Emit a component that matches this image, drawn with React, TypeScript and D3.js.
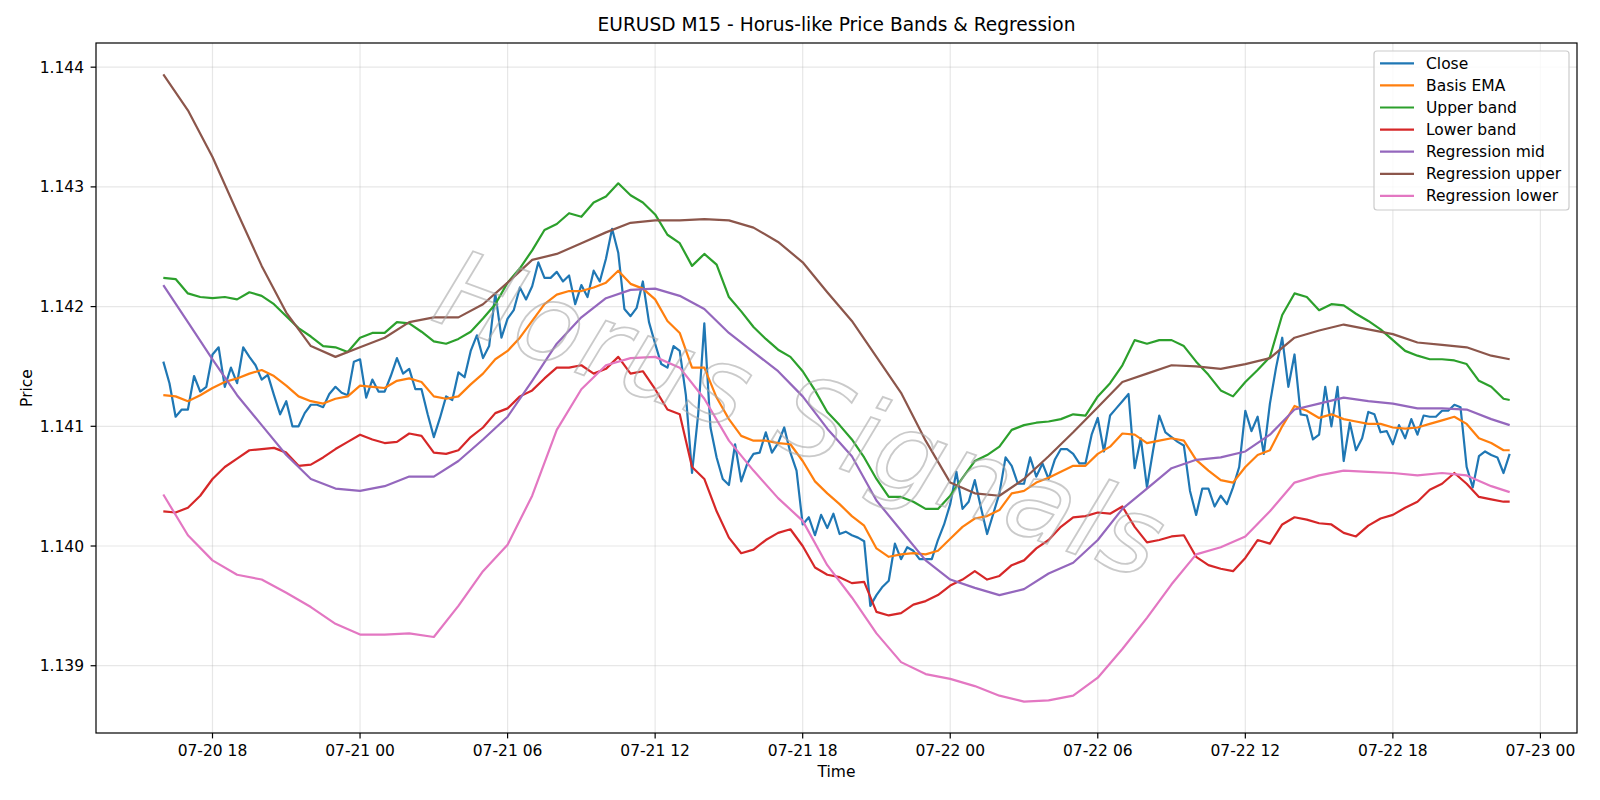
import * as d3 from "d3";

// EURUSD M15, first bar 2025-07-20 16:00 (UTC), 15 min per step
const START = Date.UTC(2025, 6, 20, 16, 0);
const STEP_MS = 15 * 60 * 1000;

const closeSteps = d3.range(220);
const bandSteps = [...d3.range(0, 220, 2), 219];
const regSteps = [...d3.range(0, 220, 4), 219];

const close = [
  1.14154, 1.14136, 1.14108, 1.14114, 1.14114, 1.14142, 1.14129, 1.14133, 1.1416, 1.14166,
  1.14133, 1.14149, 1.14136, 1.14166, 1.14158, 1.14151, 1.14139, 1.14143, 1.14126, 1.1411,
  1.14121, 1.141, 1.141, 1.14111, 1.14118, 1.14118, 1.14116, 1.14127, 1.14133, 1.14128,
  1.14126, 1.14154, 1.14156, 1.14124, 1.14139, 1.14129, 1.14129, 1.14142, 1.14157, 1.14144,
  1.14148, 1.14131, 1.14131, 1.1411, 1.14091, 1.14107, 1.14125, 1.14122, 1.14145, 1.14141,
  1.14163, 1.14176, 1.14157, 1.14167, 1.14211, 1.14174, 1.1419, 1.14197, 1.14216, 1.14206,
  1.14217, 1.14237, 1.14224, 1.14224, 1.14229, 1.14221, 1.14226, 1.14202, 1.14218, 1.14208,
  1.1423, 1.14221, 1.1424, 1.14265, 1.14245, 1.14198, 1.14192, 1.14199, 1.14221, 1.14187,
  1.14169, 1.14152, 1.14149, 1.14167, 1.14163, 1.14126, 1.14061, 1.1411, 1.14186, 1.14099,
  1.14074, 1.14056, 1.14051, 1.14085, 1.14054, 1.14069, 1.14077, 1.14078, 1.14095, 1.14078,
  1.14086, 1.14099, 1.14078, 1.14063, 1.14018, 1.14024, 1.14009, 1.14026, 1.14015, 1.14027,
  1.1401, 1.14012, 1.14009, 1.14007, 1.14004, 1.1395, 1.13959, 1.13966, 1.13971, 1.14002,
  1.13989, 1.13999, 1.13996, 1.13989, 1.13989, 1.13989, 1.14005, 1.14018, 1.14035, 1.14062,
  1.14031, 1.14037, 1.14055, 1.14032, 1.1401, 1.14027, 1.14044, 1.14074, 1.14067, 1.14052,
  1.14052, 1.14074, 1.14058, 1.14069, 1.14056, 1.14072, 1.14081, 1.14081, 1.14077, 1.14069,
  1.14069, 1.14093, 1.14107, 1.14079, 1.14109, 1.14115, 1.14121, 1.14127, 1.14065, 1.1409,
  1.14049, 1.1408, 1.14109, 1.14095, 1.14091, 1.14087, 1.14084, 1.14046, 1.14026, 1.14048,
  1.14048, 1.14033, 1.14042, 1.14035, 1.14049, 1.14066, 1.14113, 1.14096, 1.14108, 1.14077,
  1.14119, 1.14149, 1.14174, 1.14133, 1.1416, 1.1411, 1.14109, 1.14089, 1.14093, 1.14133,
  1.141, 1.14133, 1.14071, 1.14103, 1.1408, 1.1409, 1.14112, 1.1411, 1.14095, 1.14096,
  1.14085, 1.14101, 1.1409, 1.14106, 1.14093, 1.14109, 1.14108, 1.14108, 1.14113, 1.14113,
  1.14118, 1.14116, 1.14066, 1.14049, 1.14075, 1.14079, 1.14076, 1.14074, 1.14061, 1.14077,
];

const basisEma = [
  1.14126, 1.14125, 1.14121, 1.14126, 1.14132, 1.14137, 1.1414, 1.14144, 1.14147, 1.14142,
  1.14134, 1.14125, 1.14121, 1.14119, 1.14123, 1.14125, 1.14134, 1.14133, 1.14132, 1.14138,
  1.1414, 1.14137, 1.14125, 1.14123, 1.14125, 1.14135, 1.14144, 1.14156, 1.14163, 1.14174,
  1.14188, 1.14202, 1.1421, 1.14213, 1.14213, 1.14216, 1.1422, 1.1423, 1.14219, 1.14215,
  1.14206, 1.14188, 1.14178, 1.14149, 1.14149, 1.14124, 1.14106, 1.14092, 1.14088, 1.14088,
  1.14086, 1.14085, 1.14071, 1.14054, 1.14044, 1.14035, 1.14025, 1.14017, 1.13998, 1.13991,
  1.13993, 1.13994, 1.13993, 1.13996, 1.14006, 1.14016, 1.14023, 1.14025, 1.1403, 1.14044,
  1.14046, 1.14053, 1.14057, 1.14062, 1.14067, 1.14067, 1.14077, 1.14083, 1.14094, 1.14093,
  1.14086, 1.14088, 1.1409, 1.14088, 1.14072, 1.14063, 1.14055, 1.14053, 1.14066, 1.14076,
  1.1408, 1.141, 1.14117, 1.14113, 1.14107, 1.1411, 1.14106, 1.14104, 1.14102, 1.14102,
  1.14099, 1.14098, 1.14099, 1.14102, 1.14105, 1.14108, 1.14102, 1.1409, 1.14086, 1.1408,
  1.1408,
];

const upperBand = [
  1.14224, 1.14223, 1.14211, 1.14208, 1.14207, 1.14208, 1.14206, 1.14212, 1.14209, 1.14202,
  1.14192, 1.14182, 1.14175, 1.14167, 1.14166, 1.14162, 1.14174, 1.14178, 1.14178, 1.14187,
  1.14186, 1.14179, 1.14171, 1.14169, 1.14173, 1.14179, 1.1419, 1.14202, 1.1422, 1.14232,
  1.14247, 1.14264, 1.14269, 1.14278, 1.14275, 1.14287, 1.14292, 1.14303, 1.14293, 1.14287,
  1.14277, 1.1426, 1.14253, 1.14234, 1.14244, 1.14235, 1.14208, 1.14196, 1.14183, 1.14173,
  1.14164, 1.14158, 1.14146, 1.1413, 1.14112, 1.14101, 1.14089, 1.14074, 1.14056, 1.14041,
  1.14041, 1.14037, 1.14031, 1.14031, 1.14042, 1.14057, 1.14071, 1.14076, 1.14083, 1.14097,
  1.14101, 1.14103, 1.14104, 1.14106, 1.1411, 1.14109, 1.14125, 1.14136, 1.14151, 1.14172,
  1.14169, 1.14172, 1.14172, 1.14167, 1.14154, 1.14143, 1.1413, 1.14125, 1.14137, 1.14147,
  1.14158, 1.14193, 1.14211, 1.14208, 1.14197, 1.14202, 1.14201, 1.14194, 1.14188, 1.14181,
  1.14172, 1.14163, 1.14159, 1.14156, 1.14156, 1.14155, 1.14152, 1.14138, 1.14133, 1.14123,
  1.14122,
];

const lowerBand = [
  1.14029, 1.14028, 1.14032, 1.14042, 1.14056, 1.14066, 1.14073, 1.1408, 1.14081, 1.14082,
  1.14078, 1.14067, 1.14068, 1.14074, 1.14081, 1.14087, 1.14093, 1.14089, 1.14086, 1.14087,
  1.14094, 1.14092, 1.14078, 1.14077, 1.1408, 1.14091, 1.14099, 1.14111, 1.14115, 1.14125,
  1.1413, 1.1414, 1.14149, 1.14149, 1.14151, 1.14144, 1.14148, 1.14158, 1.14144, 1.14146,
  1.14131, 1.14114, 1.1411, 1.14066, 1.14056, 1.14029, 1.14007, 1.13994, 1.13997, 1.14005,
  1.14011, 1.14014, 1.14, 1.13982, 1.13976, 1.13974, 1.13969, 1.1397, 1.13945, 1.13942,
  1.13944, 1.13951, 1.13954, 1.13959, 1.13967, 1.13972, 1.13979, 1.13972, 1.13975, 1.13984,
  1.13988, 1.13998, 1.14005, 1.14016, 1.14024, 1.14025, 1.14028, 1.14027, 1.14033, 1.14016,
  1.14003, 1.14005, 1.14008, 1.14009, 1.13991, 1.13984, 1.13981, 1.13979, 1.1399, 1.14005,
  1.14002, 1.14018, 1.14024, 1.14022, 1.14019, 1.14018, 1.14011, 1.14008, 1.14017, 1.14023,
  1.14026, 1.14032, 1.14037, 1.14047, 1.14052, 1.14061, 1.14052, 1.14041, 1.14039, 1.14037,
  1.14037,
];

const regMid = [
  1.14218, 1.14187, 1.14156, 1.14126, 1.14101, 1.14076, 1.14056, 1.14048, 1.14046, 1.1405,
  1.14058, 1.14058, 1.14071, 1.14089, 1.14108, 1.14138, 1.14169, 1.14191, 1.14207, 1.14214,
  1.14215, 1.14209, 1.14198, 1.14178, 1.14162, 1.14146, 1.14125, 1.14098, 1.14075, 1.14038,
  1.14013, 1.13988, 1.13972, 1.13965, 1.13959, 1.13964, 1.13977, 1.13986, 1.14005, 1.14031,
  1.14048, 1.14065, 1.14072, 1.14074, 1.14079, 1.14093, 1.14114, 1.14119, 1.14124, 1.14121,
  1.14119, 1.14115, 1.14115, 1.14114, 1.14106, 1.14101,
];

const regUpper = [
  1.14394, 1.14364, 1.14325, 1.14279, 1.14234, 1.14195, 1.14167, 1.14158, 1.14166, 1.14174,
  1.14187, 1.14191, 1.14191, 1.14202, 1.1422, 1.14239, 1.14244, 1.14253, 1.14262, 1.1427,
  1.14272, 1.14272, 1.14273, 1.14272, 1.14266, 1.14254, 1.14237, 1.14212, 1.14188, 1.14158,
  1.14128, 1.14088, 1.14053, 1.14044, 1.14042, 1.14056, 1.14075, 1.14095, 1.14116, 1.14137,
  1.14144, 1.14151, 1.1415, 1.14148, 1.14152, 1.14157, 1.14174, 1.1418, 1.14185, 1.14181,
  1.14177, 1.1417, 1.14168, 1.14166, 1.14159, 1.14156,
];

const regLower = [
  1.14043, 1.14009, 1.13988, 1.13976, 1.13972, 1.13961, 1.13949, 1.13935, 1.13926, 1.13926,
  1.13927, 1.13924, 1.1395, 1.13979, 1.14001, 1.14042, 1.14097, 1.14131, 1.14151, 1.14157,
  1.14158, 1.14149, 1.14123, 1.14088, 1.14063, 1.1404, 1.14021, 1.13984, 1.13957, 1.13927,
  1.13903, 1.13893, 1.13889, 1.13883, 1.13875, 1.1387, 1.13871, 1.13875, 1.1389, 1.13914,
  1.1394, 1.13968, 1.13993, 1.13999, 1.14008, 1.14029, 1.14053, 1.14059, 1.14063, 1.14062,
  1.14061, 1.14059, 1.14061, 1.14059, 1.1405, 1.14045,
];

const series = [
  { name: "Close", steps: closeSteps, values: close, color: "#1f77b4" },
  { name: "Basis EMA", steps: bandSteps, values: basisEma, color: "#ff7f0e" },
  { name: "Upper band", steps: bandSteps, values: upperBand, color: "#2ca02c" },
  { name: "Lower band", steps: bandSteps, values: lowerBand, color: "#d62728" },
  { name: "Regression mid", steps: regSteps, values: regMid, color: "#9467bd" },
  { name: "Regression upper", steps: regSteps, values: regUpper, color: "#8c564b" },
  { name: "Regression lower", steps: regSteps, values: regLower, color: "#e377c2" },
];

const yTicks = [1.139, 1.14, 1.141, 1.142, 1.143, 1.144];

const W = 1600;
const H = 800;
const left = 96;
const right = 1577;
const top = 43;
const bottom = 733;
const FONT = "DejaVu Sans, sans-serif";

export default function App() {
  const stepTime = (s: number) => new Date(START + s * STEP_MS);

  // matplotlib style 5% margins
  const t0 = START;
  const t1 = START + 219 * STEP_MS;
  const tPad = (t1 - t0) * 0.05;
  const x = d3
    .scaleUtc()
    .domain([new Date(t0 - tPad), new Date(t1 + tPad)])
    .range([left, right]);

  const all = series.flatMap((s) => s.values);
  const [yMin, yMax] = d3.extent(all) as [number, number];
  const yPad = (yMax - yMin) * 0.05;
  const y = d3
    .scaleLinear()
    .domain([yMin - yPad, yMax + yPad])
    .range([bottom, top]);

  const xTicks = x.ticks(d3.utcHour.every(6)!);
  const fmtX = d3.utcFormat("%m-%d %H");
  const fmtY = d3.format(".3f");

  const line = d3
    .line<[number, number]>()
    .x((d) => x(stepTime(d[0])))
    .y((d) => y(d[1]));

  const legendX = 1374;
  const legendY = 51;
  const rowH = 22.1;

  return (
    <svg
      width={W}
      height={H}
      style={{ position: "absolute", left: 0, top: 0, background: "#fff" }}
      fontFamily={FONT}
    >
      <rect width={W} height={H} fill="#fff" />
      <defs>
        <clipPath id="plot">
          <rect x={left} y={top} width={right - left} height={bottom - top} />
        </clipPath>
      </defs>

      {/* grid */}
      <g stroke="#b0b0b0" strokeOpacity={0.3} strokeWidth={1.2}>
        {xTicks.map((t, i) => (
          <line key={"gx" + i} x1={x(t)} x2={x(t)} y1={top} y2={bottom} />
        ))}
        {yTicks.map((v, i) => (
          <line key={"gy" + i} x1={left} x2={right} y1={y(v)} y2={y(v)} />
        ))}
      </g>

      {/* series */}
      <g clipPath="url(#plot)" fill="none" strokeWidth={2.2} strokeLinejoin="round">
        {series.map((s) => (
          <path
            key={s.name}
            d={line(s.steps.map((st, i) => [st, s.values[i]]))!}
            stroke={s.color}
          />
        ))}
      </g>

      {/* watermark */}
      <text
        x={801}
        y={452}
        transform="rotate(20 801 415)"
        textAnchor="middle"
        fontSize={108}
        fontStyle="italic"
        fill="none"
        stroke="#a8a8a8"
        strokeWidth={1.8}
        opacity={0.6}
        letterSpacing={2}
      >
        Horus Signals
      </text>

      {/* axes frame */}
      <rect
        x={left}
        y={top}
        width={right - left}
        height={bottom - top}
        fill="none"
        stroke="#000"
        strokeWidth={1.2}
      />

      {/* ticks */}
      <g fontSize={15.5} fill="#000">
        {xTicks.map((t, i) => (
          <g key={"tx" + i}>
            <line x1={x(t)} x2={x(t)} y1={bottom} y2={bottom + 5.4} stroke="#000" strokeWidth={1.2} />
            <text x={x(t)} y={756} textAnchor="middle">
              {fmtX(t)}
            </text>
          </g>
        ))}
        {yTicks.map((v, i) => (
          <g key={"ty" + i}>
            <line x1={left - 5.4} x2={left} y1={y(v)} y2={y(v)} stroke="#000" strokeWidth={1.2} />
            <text x={84} y={y(v) + 5.5} textAnchor="end">
              {fmtY(v)}
            </text>
          </g>
        ))}
      </g>

      {/* labels */}
      <text x={(left + right) / 2} y={31} textAnchor="middle" fontSize={18.6}>
        EURUSD M15 - Horus-like Price Bands &amp; Regression
      </text>
      <text x={(left + right) / 2} y={777} textAnchor="middle" fontSize={15.5}>
        Time
      </text>
      <text transform={`translate(32 ${(top + bottom) / 2}) rotate(-90)`} textAnchor="middle" fontSize={15.5}>
        Price
      </text>

      {/* legend */}
      <rect
        x={legendX}
        y={legendY}
        width={195}
        height={159}
        rx={3}
        fill="#fff"
        fillOpacity={0.8}
        stroke="#cccccc"
        strokeWidth={1.2}
      />
      {series.map((s, i) => (
        <g key={"lg" + s.name}>
          <line
            x1={1380}
            x2={1414}
            y1={63.3 + i * rowH}
            y2={63.3 + i * rowH}
            stroke={s.color}
            strokeWidth={2.2}
          />
          <text x={1426} y={63.3 + i * rowH + 5.5} fontSize={15.5}>
            {s.name}
          </text>
        </g>
      ))}
    </svg>
  );
}
